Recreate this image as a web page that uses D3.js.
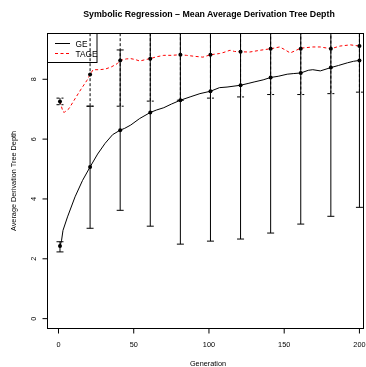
<!DOCTYPE html>
<html>
<head>
<meta charset="utf-8">
<script src="https://cdn.jsdelivr.net/npm/d3@7"></script>
<style>
  body { margin: 0; background: #fff; }
  svg { will-change: transform; }
  text { font-family: "Liberation Sans", Arial, sans-serif; fill: #000; }
</style>
</head>
<body>
<div id="chart"></div>
<script>
// mean tree depth, GE (solid line)
const geGen = [1, 2, 3, 6, 11, 16, 21, 26, 31, 36, 41, 44, 48, 54, 61, 65, 70, 75, 81, 88, 94, 101, 107, 112, 121, 126, 130, 136, 141, 146, 152, 156, 161, 166, 169, 174, 181, 186, 192, 196, 200];
const geVal = [2.43, 2.6, 2.95, 3.4, 4.07, 4.62, 5.07, 5.5, 5.86, 6.15, 6.3, 6.36, 6.47, 6.69, 6.89, 6.97, 7.05, 7.17, 7.3, 7.42, 7.52, 7.6, 7.72, 7.74, 7.8, 7.86, 7.91, 7.98, 8.06, 8.1, 8.17, 8.19, 8.21, 8.3, 8.32, 8.28, 8.39, 8.46, 8.55, 8.6, 8.63];

// mean tree depth, TAGE (red dashed line)
const tageGen = [1, 3, 4, 7, 11, 15, 19, 21, 23, 27, 31, 35, 39, 41, 45, 48, 51, 54, 58, 61, 65, 70, 75, 81, 85, 90, 96, 101, 107, 110, 114, 117, 121, 127, 134, 141, 147, 150, 154, 158, 161, 165, 169, 174, 181, 187, 194, 200];
const tageVal = [7.26, 6.91, 6.9, 7.02, 7.35, 7.67, 7.97, 8.16, 8.32, 8.32, 8.34, 8.41, 8.52, 8.63, 8.68, 8.69, 8.66, 8.61, 8.66, 8.69, 8.75, 8.8, 8.8, 8.82, 8.8, 8.77, 8.74, 8.82, 8.86, 8.9, 8.97, 8.93, 8.92, 8.91, 8.97, 9.02, 9.08, 9.0, 8.88, 8.97, 9.04, 9.06, 9.08, 9.08, 9.02, 9.11, 9.15, 9.11];

// error bars every 20 generations
const barGen = [1, 21, 41, 61, 81, 101, 121, 141, 161, 181, 200];
const geMean = [2.43, 5.07, 6.3, 6.89, 7.3, 7.6, 7.8, 8.06, 8.21, 8.39, 8.63];
const geLow = [2.23, 3.02, 3.62, 3.09, 2.49, 2.59, 2.66, 2.86, 3.16, 3.42, 3.72];
const geHigh = [2.57, 7.1, 8.98, 10.7, 12.1, 12.6, 12.9, 13.3, 13.3, 13.4, 13.5];
const tageMean = [7.26, 8.16, 8.63, 8.69, 8.82, 8.82, 8.92, 9.02, 9.02, 9.02, 9.11];
const tageLow = [7.15, 7.1, 7.1, 7.27, 7.3, 7.37, 7.41, 7.49, 7.49, 7.52, 7.57];
const tageHigh = [7.37, 9.7, 10.2, 10.1, 10.3, 10.3, 10.4, 10.5, 10.5, 10.5, 10.6];

const xTicks = [0, 50, 100, 150, 200];
const yTicks = [0, 2, 4, 6, 8];
const seriesNames = ['GE', 'TAGE'];

const W = 366, H = 367;
const box = { left: 47.5, right: 363.5, top: 33.5, bottom: 328.5 };

const svg = d3.select('#chart').append('svg')
  .attr('width', W).attr('height', H);

const x = d3.scaleLinear().domain([-7.3, 202.7]).range([box.left, box.right]);
const y = d3.scaleLinear().domain([-0.33, 9.53]).range([box.bottom, box.top]);

svg.append('clipPath').attr('id', 'plotclip')
  .append('rect')
  .attr('x', box.left).attr('y', box.top)
  .attr('width', box.right - box.left).attr('height', box.bottom - box.top);

const plot = svg.append('g').attr('clip-path', 'url(#plotclip)');

// lines
const line = d3.line().x(d => x(d[0])).y(d => y(d[1]));

plot.append('path')
  .datum(geGen.map((g, i) => [g, geVal[i]]))
  .attr('d', line)
  .attr('fill', 'none')
  .attr('stroke', '#000')
  .attr('stroke-width', 1);

plot.append('path')
  .datum(tageGen.map((g, i) => [g, tageVal[i]]))
  .attr('d', line)
  .attr('fill', 'none')
  .attr('stroke', '#ff0000')
  .attr('stroke-width', 1)
  .attr('stroke-dasharray', '3,2.5');

// error bars
const cap = 3.5;
function drawBars(mean, low, high, dash) {
  barGen.forEach((g, i) => {
    const bx = x(g);
    const b = plot.append('g')
      .attr('stroke', '#000')
      .attr('stroke-width', 1)
      .attr('stroke-dasharray', dash);
    b.append('line')
      .attr('x1', bx).attr('x2', bx)
      .attr('y1', y(low[i])).attr('y2', y(high[i]));
    [low[i], high[i]].forEach(v => {
      b.append('line')
        .attr('x1', bx - cap).attr('x2', bx + cap)
        .attr('y1', y(v)).attr('y2', y(v))
        .attr('stroke-dasharray', null);
    });
    plot.append('circle')
      .attr('cx', bx).attr('cy', y(mean[i]))
      .attr('r', 2)
      .attr('fill', '#000');
  });
}
drawBars(geMean, geLow, geHigh, null);
drawBars(tageMean, tageLow, tageHigh, '3,2');

// frame
svg.append('rect')
  .attr('x', box.left).attr('y', box.top)
  .attr('width', box.right - box.left).attr('height', box.bottom - box.top)
  .attr('fill', 'none').attr('stroke', '#000').attr('stroke-width', 1);

// x axis
const xAxis = svg.append('g');
xTicks.forEach(t => {
  xAxis.append('line')
    .attr('x1', x(t)).attr('x2', x(t))
    .attr('y1', box.bottom).attr('y2', box.bottom + 5)
    .attr('stroke', '#000');
  xAxis.append('text')
    .attr('x', x(t)).attr('y', 346.5)
    .attr('text-anchor', 'middle')
    .attr('font-size', 7.3)
    .text(t);
});

// y axis
const yAxis = svg.append('g');
yTicks.forEach(t => {
  yAxis.append('line')
    .attr('x1', box.left - 5).attr('x2', box.left)
    .attr('y1', y(t)).attr('y2', y(t))
    .attr('stroke', '#000');
  yAxis.append('text')
    .attr('transform', `translate(35.5,${y(t)}) rotate(-90)`)
    .attr('text-anchor', 'middle')
    .attr('font-size', 7.3)
    .text(t);
});

// titles
svg.append('text')
  .attr('x', 209).attr('y', 17)
  .attr('text-anchor', 'middle')
  .attr('font-size', 8.8)
  .attr('font-weight', 'bold')
  .text('Symbolic Regression \u2013 Mean Average Derivation Tree Depth');

svg.append('text')
  .attr('x', 208).attr('y', 366)
  .attr('text-anchor', 'middle')
  .attr('font-size', 7.3)
  .text('Generation');

svg.append('text')
  .attr('transform', `translate(16,${(box.top + box.bottom) / 2}) rotate(-90)`)
  .attr('text-anchor', 'middle')
  .attr('font-size', 7.3)
  .text('Average Derivation Tree Depth');

// legend
const legend = svg.append('g');
legend.append('rect')
  .attr('x', box.left).attr('y', box.top)
  .attr('width', 49.5).attr('height', 29)
  .attr('fill', 'none').attr('stroke', '#000');

seriesNames.forEach((name, i) => {
  const ly = 43.5 + i * 10;
  legend.append('line')
    .attr('x1', 55).attr('x2', 70)
    .attr('y1', ly).attr('y2', ly)
    .attr('stroke', i === 0 ? '#000' : '#ff0000')
    .attr('stroke-dasharray', i === 0 ? null : '3,2.5');
  legend.append('text')
    .attr('x', 75.5).attr('y', ly + 3)
    .attr('font-size', 8.3)
    .text(name);
});
</script>
</body>
</html>
